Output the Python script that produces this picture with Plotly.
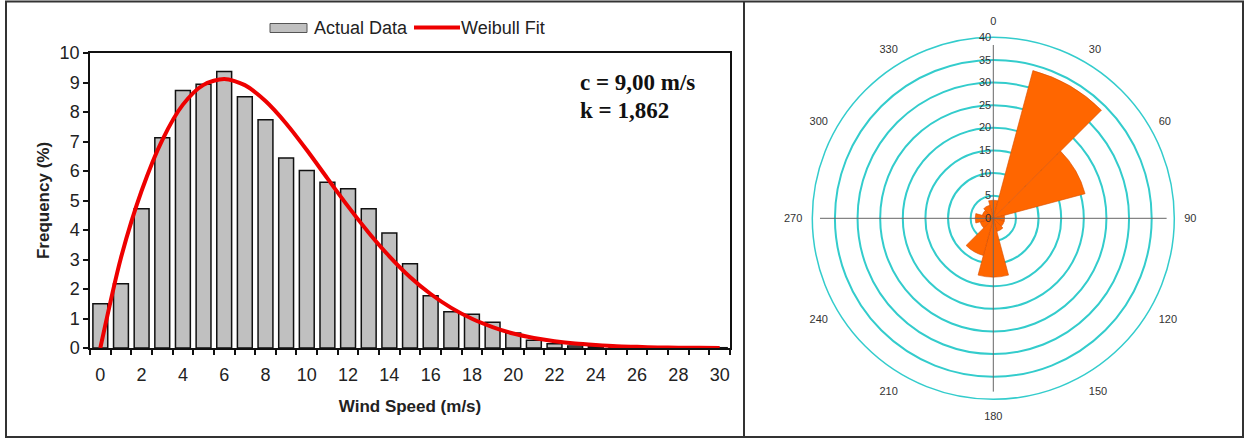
import plotly.graph_objects as go

W, H = 1256, 442

# ---------------- data ----------------
speed = list(range(31))
speed_ticks = list(range(0, 31, 2))
actual_data = [1.50, 2.18, 4.72, 7.13, 8.73, 8.94, 9.37, 8.52, 7.74, 6.44, 6.02,
               5.62, 5.40, 4.72, 3.90, 2.86, 1.77, 1.23, 1.14, 0.87, 0.51,
               0.26, 0.14, 0.07, 0.04, 0.03, 0.02, 0.01, 0.01, 0.01, 0.01]
weibull_fit = [0.00, 3.06, 5.33, 7.05, 8.25, 8.92, 9.12, 8.91, 8.37, 7.61, 6.71,
               5.75, 4.80, 3.91, 3.11, 2.41, 1.83, 1.36, 0.99, 0.71, 0.49,
               0.34, 0.23, 0.15, 0.10, 0.06, 0.04, 0.02, 0.01, 0.01, 0.00]
freq_ticks = list(range(0, 11))

direction = [0, 30, 60, 90, 120, 150, 180, 210, 240, 270, 300, 330]
dir_freq = [4.0, 33.8, 21.0, 2.5, 2.5, 3.0, 13.0, 8.5, 3.0, 4.0, 2.5, 3.0]
rose_ticks = [0, 5, 10, 15, 20, 25, 30, 35, 40]
cross_r = 38.3
cross_theta = [[0, 180], [90, 270]]

stats_lines = ["c = 9,00 m/s", "k = 1,862"]


def px(x):
    return x / W


def py(y):
    return 1 - y / H


fig = go.Figure()

fig.add_trace(go.Bar(
    x=speed, y=actual_data, name="Actual Data",
    marker=dict(color="#C0C0C0", line=dict(color="#111111", width=1.5)),
    showlegend=False, xaxis="x", yaxis="y",
))
fig.add_trace(go.Scatter(
    x=speed, y=weibull_fit, name="Weibull Fit", mode="lines",
    line=dict(color="#EE0000", width=4, shape="spline", smoothing=0.8),
    showlegend=False, xaxis="x", yaxis="y",
))

fig.add_trace(go.Barpolar(
    r=dir_freq, theta=direction, width=[30] * len(direction),
    marker=dict(color="#FF6600", line=dict(color="#D85000", width=0.6)),
    showlegend=False, subplot="polar",
))
for th in cross_theta:
    fig.add_trace(go.Scatterpolar(
        r=[cross_r, 0, cross_r], theta=[th[0], th[0], th[1]], mode="lines",
        line=dict(color="#666666", width=1), showlegend=False,
        hoverinfo="skip", subplot="polar",
    ))

font_sans = "Liberation Sans, Arial, sans-serif"

fig.update_layout(
    width=W, height=H, autosize=False,
    margin=dict(l=0, r=0, t=0, b=0, pad=0, autoexpand=False),
    paper_bgcolor="white", plot_bgcolor="white",
    showlegend=False,
    bargap=0.28,
    font=dict(family=font_sans, color="#222222"),
    xaxis=dict(
        domain=[px(90), px(730)], range=[-0.5, 30.5], automargin=False,
        tickmode="array", tickvals=speed_ticks, ticks="",
        tickfont=dict(size=18, color="#222222"),
        ticklabelstandoff=10,
        showgrid=False, zeroline=False,
        showline=True, linecolor="#111111", linewidth=1.5, mirror=True,
        minor=dict(tick0=-0.5, dtick=1, ticks="outside", ticklen=5,
                   tickcolor="#111111", tickwidth=1.5, showgrid=False),
        title=dict(text="<b>Wind Speed (m/s)</b>", font=dict(size=17, color="#222222"),
                   standoff=16),
        anchor="y",
    ),
    yaxis=dict(
        domain=[py(348), py(53)], range=[0, 10], automargin=False,
        tickmode="array", tickvals=freq_ticks,
        ticks="outside", ticklen=5, tickcolor="#111111", tickwidth=1.5,
        tickfont=dict(size=18, color="#222222"),
        showgrid=False, zeroline=False,
        showline=True, linecolor="#111111", linewidth=1.5, mirror=True,
        title=dict(text="<b>Frequency (%)</b>", font=dict(size=17, color="#222222"),
                   standoff=6),
        anchor="x",
    ),
    polar=dict(
        domain=dict(x=[px(993.3 - 181), px(993.3 + 181)],
                    y=[py(218.3 + 181), py(218.3 - 181)]),
        bgcolor="white",
        radialaxis=dict(
            range=[0, 40], tickmode="array", tickvals=rose_ticks,
            angle=90, tickangle=90, side="counterclockwise", showline=False, ticks="",
            gridcolor="#33CCCC", gridwidth=1.5,
            tickfont=dict(size=11, color="#333333"),
        ),
        angularaxis=dict(
            direction="clockwise", rotation=90,
            tickmode="array", tickvals=direction,
            ticks="outside", ticklen=7, tickcolor="rgba(0,0,0,0)",
            showgrid=False, showline=True, linecolor="#33CCCC", linewidth=1.5,
            tickfont=dict(size=11, color="#333333"),
        ),
    ),
)

# annotation with Weibull parameters
for i, line in enumerate(stats_lines):
    fig.add_annotation(
        xref="paper", yref="paper", x=px(578), y=py(82 + 28 * i),
        xanchor="left", yanchor="middle", showarrow=False,
        text="<b>%s</b>" % line,
        font=dict(family="Liberation Serif, Times New Roman, serif", size=23, color="#111111"),
    )

# legend (Excel style)
fig.add_shape(type="rect", xref="paper", yref="paper",
              x0=px(270), x1=px(307), y0=py(32.5), y1=py(23.5),
              fillcolor="#C0C0C0", line=dict(color="#555555", width=1))
fig.add_annotation(xref="paper", yref="paper", x=px(312), y=py(27.5),
                   xanchor="left", yanchor="middle", showarrow=False,
                   text="Actual Data", font=dict(size=18, color="#222222"))
fig.add_shape(type="line", xref="paper", yref="paper",
              x0=px(414), x1=px(460), y0=py(27.5), y1=py(27.5),
              line=dict(color="#EE0000", width=4))
fig.add_annotation(xref="paper", yref="paper", x=px(459), y=py(27.5),
                   xanchor="left", yanchor="middle", showarrow=False,
                   text="Weibull Fit", font=dict(size=18, color="#222222"))

# outer frame and divider
fig.add_shape(type="rect", xref="paper", yref="paper",
              x0=px(6), x1=px(1243), y0=py(437), y1=py(1.5),
              line=dict(color="#333333", width=2))
fig.add_shape(type="line", xref="paper", yref="paper",
              x0=px(744), x1=px(744), y0=py(437), y1=py(1.5),
              line=dict(color="#333333", width=2))

fig.write_html("out.html")
